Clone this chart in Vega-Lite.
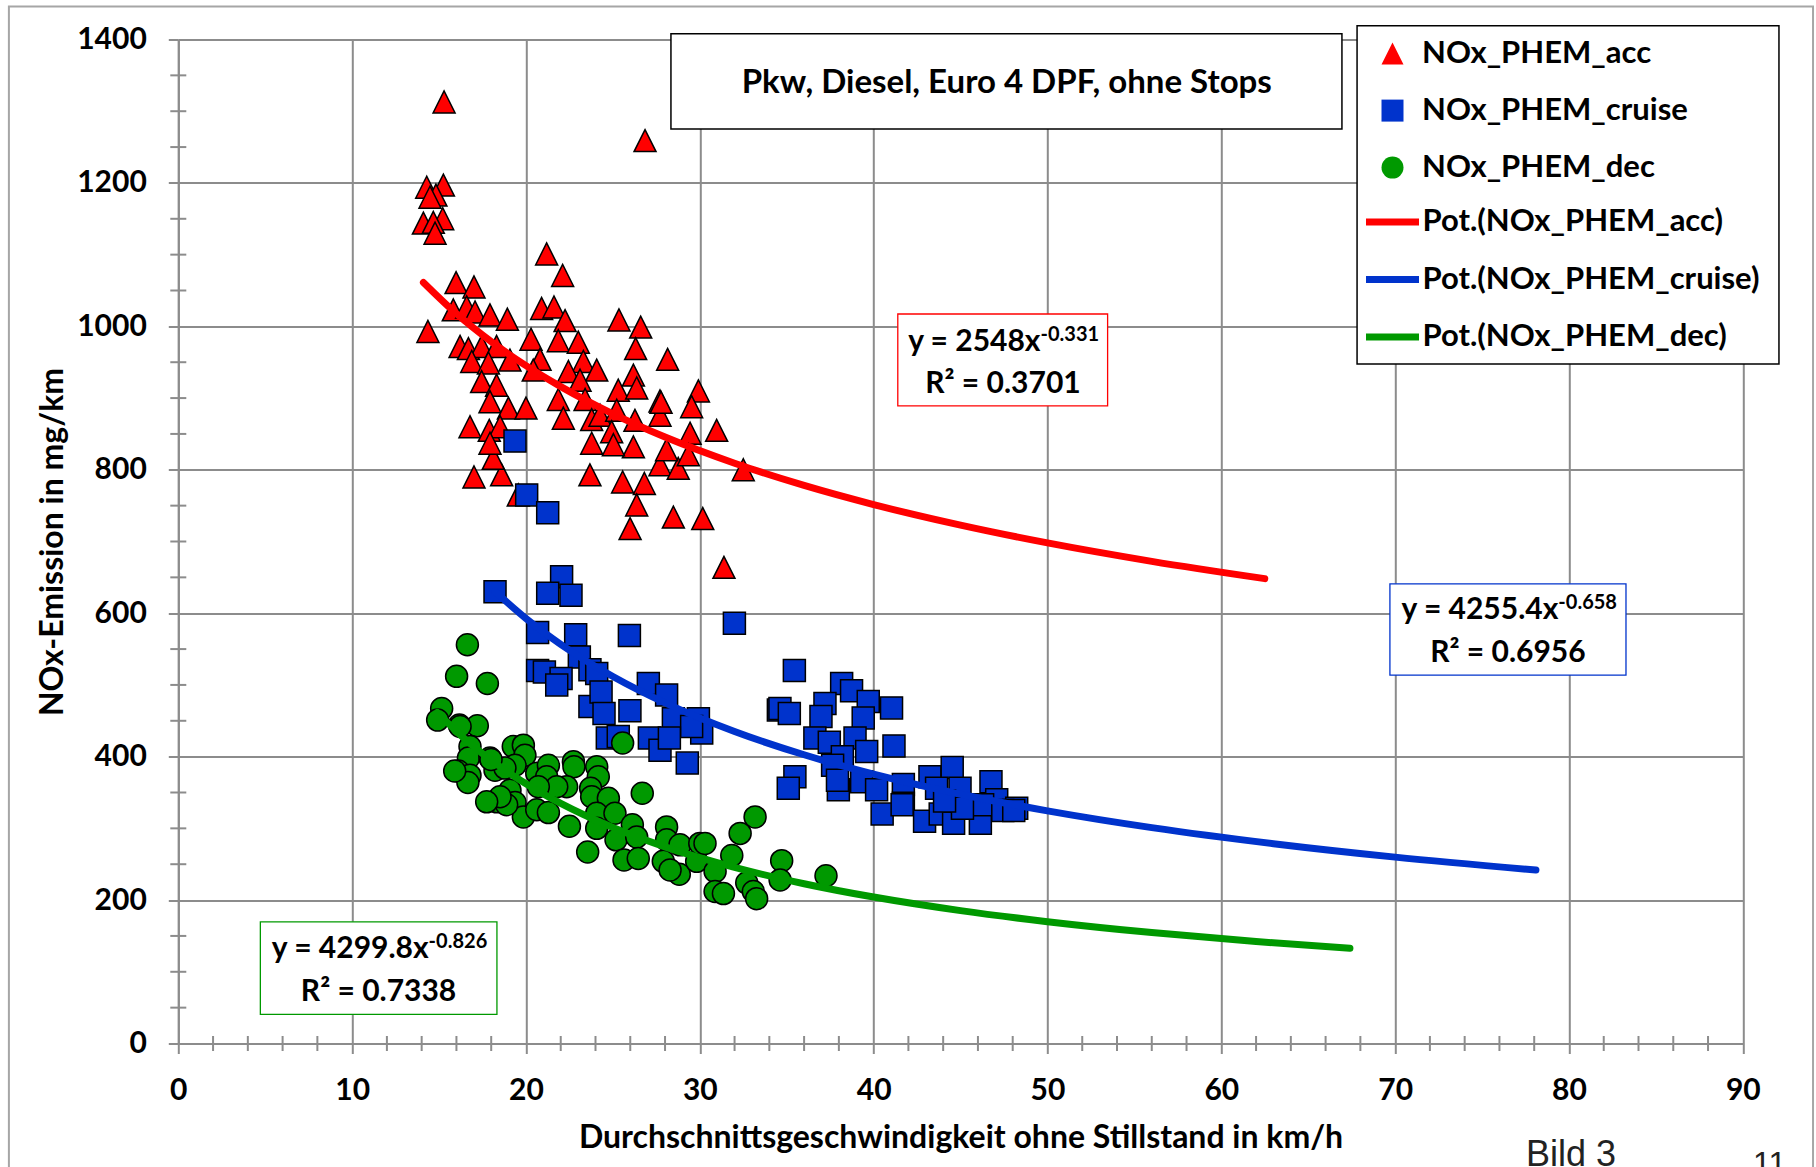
{
  "$schema": "https://vega.github.io/schema/vega-lite/v6.json",
  "width": 1564.5,
  "height": 1004,
  "autosize": {"type": "none"},
  "padding": {"left": 178.3, "top": 39.5, "right": 73.2, "bottom": 123.5},
  "background": "white",
  "config": {
    "view": {"stroke": null},
    "font": "Lato",
    "axis": {
      "grid": true, "gridColor": "#8c8c8c", "gridWidth": 2, "gridOpacity": 1,
      "domainColor": "#8c8c8c", "domainWidth": 2,
      "tickColor": "#8c8c8c", "tickWidth": 2, "tickSize": 10,
      "labelFont": "Lato", "labelFontWeight": "bold", "labelFontSize": 30, "labelColor": "black", "labelPadding": 22,
      "labelFlush": false, "labelOverlap": false, "format": "d",
      "titleFont": "Lato", "titleFontWeight": "bold", "titleFontSize": 32, "titleColor": "black"
    }
  },
  "layer": [
    {
      "data": {"values": [{"x1": -9.745, "x2": 94.04, "y1": -200, "y2": 1446}]},
      "mark": {"type": "rect", "fill": "white", "fillOpacity": 0, "stroke": "#a6a6a6", "strokeWidth": 2},
      "encoding": {
        "x": {"field": "x1", "type": "quantitative", "scale": {"domain": [0, 90], "nice": false, "zero": false}},
        "x2": {"field": "x2"},
        "y": {"field": "y1", "type": "quantitative", "scale": {"domain": [0, 1400], "nice": false, "zero": false}},
        "y2": {"field": "y2"}
      }
    },
    {
      "data": {"values": [
        {"x1": 28.34, "x2": 66.94, "y1": 1275.2, "y2": 1408.1},
        {"x1": 67.81, "x2": 92.08, "y1": 947.5, "y2": 1419.2}
      ]},
      "mark": {"type": "rect", "fill": "white", "stroke": "black", "strokeWidth": 1.5},
      "encoding": {
        "x": {"field": "x1", "type": "quantitative"},
        "x2": {"field": "x2"},
        "y": {"field": "y1", "type": "quantitative"},
        "y2": {"field": "y2"}
      }
    },
    {
      "data": {"values": [{"x1": 41.39, "x2": 53.46, "y1": 889, "y2": 1017.2}]},
      "mark": {"type": "rect", "fill": "white", "stroke": "#FF0000", "strokeWidth": 1.3},
      "encoding": {
        "x": {"field": "x1", "type": "quantitative"},
        "x2": {"field": "x2"},
        "y": {"field": "y1", "type": "quantitative"},
        "y2": {"field": "y2"}
      }
    },
    {
      "data": {"values": [{"x1": 69.7, "x2": 83.28, "y1": 513.8, "y2": 641}]},
      "mark": {"type": "rect", "fill": "white", "stroke": "#0033CC", "strokeWidth": 1.3},
      "encoding": {
        "x": {"field": "x1", "type": "quantitative"},
        "x2": {"field": "x2"},
        "y": {"field": "y1", "type": "quantitative"},
        "y2": {"field": "y2"}
      }
    },
    {
      "data": {"values": [{"x1": 4.72, "x2": 18.33, "y1": 40.7, "y2": 169.7}]},
      "mark": {"type": "rect", "fill": "white", "stroke": "#009900", "strokeWidth": 1.3},
      "encoding": {
        "x": {"field": "x1", "type": "quantitative"},
        "x2": {"field": "x2"},
        "y": {"field": "y1", "type": "quantitative"},
        "y2": {"field": "y2"}
      }
    },
    {
      "data": {"values": [{"t": "Pkw, Diesel, Euro 4 DPF, ohne Stops", "x": 47.66, "y": 1325.3}]},
      "mark": {"type": "text", "font": "Lato", "fontWeight": "bold", "fontSize": 33, "align": "center", "baseline": "alphabetic", "color": "black"},
      "encoding": {
        "x": {"field": "x", "type": "quantitative"},
        "y": {"field": "y", "type": "quantitative"},
        "text": {"field": "t"}
      }
    },
    {
      "data": {"values": [
        {"t": "y = 2548x", "x": 49.6, "y": 966.2},
        {"t": "y = 4255.4x", "x": 79.39, "y": 591.5},
        {"t": "y = 4299.8x", "x": 14.4, "y": 119.1}
      ]},
      "mark": {"type": "text", "font": "Lato", "fontWeight": "bold", "fontSize": 30, "align": "right", "baseline": "alphabetic", "color": "black"},
      "encoding": {
        "x": {"field": "x", "type": "quantitative"},
        "y": {"field": "y", "type": "quantitative"},
        "text": {"field": "t"}
      }
    },
    {
      "data": {"values": [
        {"t": "-0.331", "x": 49.6, "y": 966.2},
        {"t": "-0.658", "x": 79.39, "y": 591.5},
        {"t": "-0.826", "x": 14.4, "y": 119.1}
      ]},
      "mark": {"type": "text", "font": "Lato", "fontWeight": "bold", "fontSize": 20, "align": "left", "baseline": "alphabetic", "dy": -10, "color": "black"},
      "encoding": {
        "x": {"field": "x", "type": "quantitative"},
        "y": {"field": "y", "type": "quantitative"},
        "text": {"field": "t"}
      }
    },
    {
      "data": {"values": [
        {"t": "R² = 0.3701", "x": 47.44, "y": 907.5},
        {"t": "R² = 0.6956", "x": 76.49, "y": 531.4},
        {"t": "R² = 0.7338", "x": 11.52, "y": 59}
      ]},
      "mark": {"type": "text", "font": "Lato", "fontWeight": "bold", "fontSize": 30, "align": "center", "baseline": "alphabetic", "color": "black"},
      "encoding": {
        "x": {"field": "x", "type": "quantitative"},
        "y": {"field": "y", "type": "quantitative"},
        "text": {"field": "t"}
      }
    },
    {
      "data": {"values": [{"t": "Bild 3", "x": 77.53, "y": -171.2}]},
      "mark": {"type": "text", "font": "Liberation Sans", "fontSize": 36, "align": "left", "baseline": "alphabetic", "color": "#222222"},
      "encoding": {
        "x": {"field": "x", "type": "quantitative"},
        "y": {"field": "y", "type": "quantitative"},
        "text": {"field": "t"}
      }
    },
    {
      "data": {"values": [{"t": "11", "x": 90.59, "y": -181.8}]},
      "mark": {"type": "text", "font": "Liberation Sans", "fontSize": 32, "align": "left", "baseline": "alphabetic", "color": "#222222"},
      "encoding": {
        "x": {"field": "x", "type": "quantitative"},
        "y": {"field": "y", "type": "quantitative"},
        "text": {"field": "t"}
      }
    },
    {
      "data": {"values": [
        {"v": 2}, {"v": 4}, {"v": 6}, {"v": 8}, {"v": 12}, {"v": 14}, {"v": 16}, {"v": 18},
        {"v": 22}, {"v": 24}, {"v": 26}, {"v": 28}, {"v": 32}, {"v": 34}, {"v": 36}, {"v": 38},
        {"v": 42}, {"v": 44}, {"v": 46}, {"v": 48}, {"v": 52}, {"v": 54}, {"v": 56}, {"v": 58},
        {"v": 62}, {"v": 64}, {"v": 66}, {"v": 68}, {"v": 72}, {"v": 74}, {"v": 76}, {"v": 78},
        {"v": 82}, {"v": 84}, {"v": 86}, {"v": 88}
      ]},
      "mark": {"type": "tick", "orient": "vertical", "size": 15, "thickness": 2, "color": "#8c8c8c", "opacity": 1},
      "encoding": {
        "x": {"field": "v", "type": "quantitative"},
        "y": {"datum": 0, "type": "quantitative"}
      }
    },
    {
      "data": {"values": [
        {"v": 50}, {"v": 100}, {"v": 150}, {"v": 250}, {"v": 300}, {"v": 350}, {"v": 450}, {"v": 500}, {"v": 550},
        {"v": 650}, {"v": 700}, {"v": 750}, {"v": 850}, {"v": 900}, {"v": 950}, {"v": 1050}, {"v": 1100}, {"v": 1150},
        {"v": 1250}, {"v": 1300}, {"v": 1350}
      ]},
      "mark": {"type": "tick", "orient": "horizontal", "size": 16, "thickness": 2, "color": "#8c8c8c", "opacity": 1},
      "encoding": {
        "y": {"field": "v", "type": "quantitative"},
        "x": {"datum": 0, "type": "quantitative"}
      }
    },
    {
      "data": {"values": [
        {"series": "NOx_PHEM_acc", "x": 15.29, "y": 1313}, {"series": "NOx_PHEM_acc", "x": 26.85, "y": 1259},
        {"series": "NOx_PHEM_acc", "x": 14.29, "y": 1194}, {"series": "NOx_PHEM_acc", "x": 15.25, "y": 1197},
        {"series": "NOx_PHEM_acc", "x": 14.82, "y": 1183}, {"series": "NOx_PHEM_acc", "x": 14.48, "y": 1180},
        {"series": "NOx_PHEM_acc", "x": 14.10, "y": 1144}, {"series": "NOx_PHEM_acc", "x": 15.21, "y": 1150},
        {"series": "NOx_PHEM_acc", "x": 14.67, "y": 1145}, {"series": "NOx_PHEM_acc", "x": 14.77, "y": 1130},
        {"series": "NOx_PHEM_acc", "x": 21.19, "y": 1101}, {"series": "NOx_PHEM_acc", "x": 22.11, "y": 1071},
        {"series": "NOx_PHEM_acc", "x": 15.98, "y": 1061}, {"series": "NOx_PHEM_acc", "x": 17.01, "y": 1055},
        {"series": "NOx_PHEM_acc", "x": 14.36, "y": 993}, {"series": "NOx_PHEM_acc", "x": 15.82, "y": 1023},
        {"series": "NOx_PHEM_acc", "x": 16.59, "y": 1027}, {"series": "NOx_PHEM_acc", "x": 17.07, "y": 1020},
        {"series": "NOx_PHEM_acc", "x": 17.93, "y": 1016}, {"series": "NOx_PHEM_acc", "x": 18.93, "y": 1010},
        {"series": "NOx_PHEM_acc", "x": 20.90, "y": 1025}, {"series": "NOx_PHEM_acc", "x": 21.61, "y": 1027},
        {"series": "NOx_PHEM_acc", "x": 22.25, "y": 1008}, {"series": "NOx_PHEM_acc", "x": 25.35, "y": 1009},
        {"series": "NOx_PHEM_acc", "x": 26.60, "y": 999}, {"series": "NOx_PHEM_acc", "x": 20.29, "y": 982},
        {"series": "NOx_PHEM_acc", "x": 21.86, "y": 980}, {"series": "NOx_PHEM_acc", "x": 23.01, "y": 978},
        {"series": "NOx_PHEM_acc", "x": 26.31, "y": 969}, {"series": "NOx_PHEM_acc", "x": 28.15, "y": 954},
        {"series": "NOx_PHEM_acc", "x": 16.21, "y": 972}, {"series": "NOx_PHEM_acc", "x": 16.69, "y": 969},
        {"series": "NOx_PHEM_acc", "x": 17.45, "y": 972}, {"series": "NOx_PHEM_acc", "x": 18.31, "y": 972},
        {"series": "NOx_PHEM_acc", "x": 16.88, "y": 951}, {"series": "NOx_PHEM_acc", "x": 17.84, "y": 949},
        {"series": "NOx_PHEM_acc", "x": 19.08, "y": 953}, {"series": "NOx_PHEM_acc", "x": 20.81, "y": 954},
        {"series": "NOx_PHEM_acc", "x": 20.42, "y": 939}, {"series": "NOx_PHEM_acc", "x": 23.30, "y": 951},
        {"series": "NOx_PHEM_acc", "x": 24.07, "y": 939}, {"series": "NOx_PHEM_acc", "x": 22.44, "y": 937},
        {"series": "NOx_PHEM_acc", "x": 23.11, "y": 925}, {"series": "NOx_PHEM_acc", "x": 26.18, "y": 932},
        {"series": "NOx_PHEM_acc", "x": 17.45, "y": 923}, {"series": "NOx_PHEM_acc", "x": 18.31, "y": 918},
        {"series": "NOx_PHEM_acc", "x": 21.86, "y": 898}, {"series": "NOx_PHEM_acc", "x": 23.40, "y": 898},
        {"series": "NOx_PHEM_acc", "x": 25.31, "y": 911}, {"series": "NOx_PHEM_acc", "x": 26.37, "y": 914},
        {"series": "NOx_PHEM_acc", "x": 29.92, "y": 910}, {"series": "NOx_PHEM_acc", "x": 27.71, "y": 896},
        {"series": "NOx_PHEM_acc", "x": 29.53, "y": 888}, {"series": "NOx_PHEM_acc", "x": 17.93, "y": 895},
        {"series": "NOx_PHEM_acc", "x": 18.99, "y": 886}, {"series": "NOx_PHEM_acc", "x": 20.00, "y": 886},
        {"series": "NOx_PHEM_acc", "x": 22.15, "y": 872}, {"series": "NOx_PHEM_acc", "x": 23.78, "y": 870},
        {"series": "NOx_PHEM_acc", "x": 24.26, "y": 876}, {"series": "NOx_PHEM_acc", "x": 25.22, "y": 883},
        {"series": "NOx_PHEM_acc", "x": 26.27, "y": 869}, {"series": "NOx_PHEM_acc", "x": 27.71, "y": 876},
        {"series": "NOx_PHEM_acc", "x": 29.44, "y": 851}, {"series": "NOx_PHEM_acc", "x": 30.97, "y": 855},
        {"series": "NOx_PHEM_acc", "x": 16.78, "y": 860}, {"series": "NOx_PHEM_acc", "x": 17.89, "y": 855},
        {"series": "NOx_PHEM_acc", "x": 18.51, "y": 860}, {"series": "NOx_PHEM_acc", "x": 23.78, "y": 837},
        {"series": "NOx_PHEM_acc", "x": 24.93, "y": 853}, {"series": "NOx_PHEM_acc", "x": 26.18, "y": 832},
        {"series": "NOx_PHEM_acc", "x": 17.01, "y": 790}, {"series": "NOx_PHEM_acc", "x": 18.60, "y": 793},
        {"series": "NOx_PHEM_acc", "x": 18.12, "y": 816}, {"series": "NOx_PHEM_acc", "x": 19.56, "y": 765},
        {"series": "NOx_PHEM_acc", "x": 23.68, "y": 793}, {"series": "NOx_PHEM_acc", "x": 25.56, "y": 783},
        {"series": "NOx_PHEM_acc", "x": 26.81, "y": 781}, {"series": "NOx_PHEM_acc", "x": 26.37, "y": 751},
        {"series": "NOx_PHEM_acc", "x": 25.99, "y": 718}, {"series": "NOx_PHEM_acc", "x": 28.48, "y": 734},
        {"series": "NOx_PHEM_acc", "x": 30.17, "y": 732}, {"series": "NOx_PHEM_acc", "x": 31.39, "y": 664},
        {"series": "NOx_PHEM_acc", "x": 32.50, "y": 800}, {"series": "NOx_PHEM_acc", "x": 27.71, "y": 807},
        {"series": "NOx_PHEM_acc", "x": 28.76, "y": 802}, {"series": "NOx_PHEM_acc", "x": 29.34, "y": 821},
        {"series": "NOx_PHEM_acc", "x": 25.03, "y": 835}, {"series": "NOx_PHEM_acc", "x": 28.09, "y": 828},
        {"series": "NOx_PHEM_acc", "x": 17.93, "y": 837}, {"series": "NOx_PHEM_acc", "x": 27.77, "y": 894},

        {"series": "NOx_PHEM_cruise", "x": 19.37, "y": 840}, {"series": "NOx_PHEM_cruise", "x": 20.04, "y": 765},
        {"series": "NOx_PHEM_cruise", "x": 21.25, "y": 740}, {"series": "NOx_PHEM_cruise", "x": 18.22, "y": 630},
        {"series": "NOx_PHEM_cruise", "x": 22.05, "y": 651}, {"series": "NOx_PHEM_cruise", "x": 21.25, "y": 628},
        {"series": "NOx_PHEM_cruise", "x": 22.59, "y": 625}, {"series": "NOx_PHEM_cruise", "x": 20.67, "y": 573},
        {"series": "NOx_PHEM_cruise", "x": 22.86, "y": 570}, {"series": "NOx_PHEM_cruise", "x": 25.95, "y": 569},
        {"series": "NOx_PHEM_cruise", "x": 31.99, "y": 586}, {"series": "NOx_PHEM_cruise", "x": 23.07, "y": 539},
        {"series": "NOx_PHEM_cruise", "x": 20.67, "y": 520}, {"series": "NOx_PHEM_cruise", "x": 21.06, "y": 518},
        {"series": "NOx_PHEM_cruise", "x": 22.02, "y": 509}, {"series": "NOx_PHEM_cruise", "x": 21.77, "y": 500},
        {"series": "NOx_PHEM_cruise", "x": 23.68, "y": 521}, {"series": "NOx_PHEM_cruise", "x": 24.07, "y": 516},
        {"series": "NOx_PHEM_cruise", "x": 27.04, "y": 502}, {"series": "NOx_PHEM_cruise", "x": 28.09, "y": 486},
        {"series": "NOx_PHEM_cruise", "x": 23.68, "y": 470}, {"series": "NOx_PHEM_cruise", "x": 24.32, "y": 490},
        {"series": "NOx_PHEM_cruise", "x": 24.49, "y": 460}, {"series": "NOx_PHEM_cruise", "x": 25.98, "y": 464},
        {"series": "NOx_PHEM_cruise", "x": 28.48, "y": 453}, {"series": "NOx_PHEM_cruise", "x": 29.92, "y": 453},
        {"series": "NOx_PHEM_cruise", "x": 30.11, "y": 433}, {"series": "NOx_PHEM_cruise", "x": 29.53, "y": 442},
        {"series": "NOx_PHEM_cruise", "x": 24.68, "y": 426}, {"series": "NOx_PHEM_cruise", "x": 25.31, "y": 428},
        {"series": "NOx_PHEM_cruise", "x": 27.10, "y": 426}, {"series": "NOx_PHEM_cruise", "x": 27.71, "y": 409},
        {"series": "NOx_PHEM_cruise", "x": 28.25, "y": 426}, {"series": "NOx_PHEM_cruise", "x": 29.28, "y": 391},
        {"series": "NOx_PHEM_cruise", "x": 34.52, "y": 465}, {"series": "NOx_PHEM_cruise", "x": 35.44, "y": 520},
        {"series": "NOx_PHEM_cruise", "x": 38.16, "y": 502}, {"series": "NOx_PHEM_cruise", "x": 38.73, "y": 492},
        {"series": "NOx_PHEM_cruise", "x": 37.20, "y": 474}, {"series": "NOx_PHEM_cruise", "x": 39.69, "y": 477},
        {"series": "NOx_PHEM_cruise", "x": 41.03, "y": 468}, {"series": "NOx_PHEM_cruise", "x": 34.61, "y": 467},
        {"series": "NOx_PHEM_cruise", "x": 35.15, "y": 460}, {"series": "NOx_PHEM_cruise", "x": 36.97, "y": 456},
        {"series": "NOx_PHEM_cruise", "x": 39.40, "y": 454}, {"series": "NOx_PHEM_cruise", "x": 36.62, "y": 426},
        {"series": "NOx_PHEM_cruise", "x": 37.45, "y": 420}, {"series": "NOx_PHEM_cruise", "x": 38.93, "y": 426},
        {"series": "NOx_PHEM_cruise", "x": 39.60, "y": 407}, {"series": "NOx_PHEM_cruise", "x": 41.17, "y": 415},
        {"series": "NOx_PHEM_cruise", "x": 38.20, "y": 400}, {"series": "NOx_PHEM_cruise", "x": 37.64, "y": 388},
        {"series": "NOx_PHEM_cruise", "x": 35.47, "y": 372}, {"series": "NOx_PHEM_cruise", "x": 35.09, "y": 356},
        {"series": "NOx_PHEM_cruise", "x": 37.97, "y": 354}, {"series": "NOx_PHEM_cruise", "x": 39.31, "y": 365},
        {"series": "NOx_PHEM_cruise", "x": 40.17, "y": 354}, {"series": "NOx_PHEM_cruise", "x": 41.71, "y": 361},
        {"series": "NOx_PHEM_cruise", "x": 43.24, "y": 372}, {"series": "NOx_PHEM_cruise", "x": 44.52, "y": 385},
        {"series": "NOx_PHEM_cruise", "x": 43.62, "y": 356}, {"series": "NOx_PHEM_cruise", "x": 44.97, "y": 356},
        {"series": "NOx_PHEM_cruise", "x": 46.75, "y": 365}, {"series": "NOx_PHEM_cruise", "x": 41.71, "y": 335},
        {"series": "NOx_PHEM_cruise", "x": 47.08, "y": 340}, {"series": "NOx_PHEM_cruise", "x": 48.23, "y": 328},
        {"series": "NOx_PHEM_cruise", "x": 40.49, "y": 320}, {"series": "NOx_PHEM_cruise", "x": 42.93, "y": 310},
        {"series": "NOx_PHEM_cruise", "x": 43.83, "y": 320}, {"series": "NOx_PHEM_cruise", "x": 44.60, "y": 307},
        {"series": "NOx_PHEM_cruise", "x": 46.14, "y": 307}, {"series": "NOx_PHEM_cruise", "x": 46.27, "y": 333},
        {"series": "NOx_PHEM_cruise", "x": 47.43, "y": 325}, {"series": "NOx_PHEM_cruise", "x": 48.06, "y": 325},
        {"series": "NOx_PHEM_cruise", "x": 45.11, "y": 328}, {"series": "NOx_PHEM_cruise", "x": 44.08, "y": 338},
        {"series": "NOx_PHEM_cruise", "x": 41.64, "y": 333}, {"series": "NOx_PHEM_cruise", "x": 37.92, "y": 367},

        {"series": "NOx_PHEM_dec", "x": 16.63, "y": 556}, {"series": "NOx_PHEM_dec", "x": 16.01, "y": 512},
        {"series": "NOx_PHEM_dec", "x": 17.78, "y": 502}, {"series": "NOx_PHEM_dec", "x": 15.15, "y": 467},
        {"series": "NOx_PHEM_dec", "x": 14.92, "y": 451}, {"series": "NOx_PHEM_dec", "x": 16.17, "y": 444},
        {"series": "NOx_PHEM_dec", "x": 17.20, "y": 443}, {"series": "NOx_PHEM_dec", "x": 16.78, "y": 414},
        {"series": "NOx_PHEM_dec", "x": 16.69, "y": 398}, {"series": "NOx_PHEM_dec", "x": 16.11, "y": 380},
        {"series": "NOx_PHEM_dec", "x": 16.78, "y": 374}, {"series": "NOx_PHEM_dec", "x": 17.93, "y": 398},
        {"series": "NOx_PHEM_dec", "x": 18.22, "y": 381}, {"series": "NOx_PHEM_dec", "x": 19.27, "y": 414},
        {"series": "NOx_PHEM_dec", "x": 19.85, "y": 416}, {"series": "NOx_PHEM_dec", "x": 19.94, "y": 402},
        {"series": "NOx_PHEM_dec", "x": 19.37, "y": 388}, {"series": "NOx_PHEM_dec", "x": 18.79, "y": 384},
        {"series": "NOx_PHEM_dec", "x": 20.62, "y": 377}, {"series": "NOx_PHEM_dec", "x": 21.29, "y": 388},
        {"series": "NOx_PHEM_dec", "x": 21.19, "y": 372}, {"series": "NOx_PHEM_dec", "x": 22.73, "y": 393},
        {"series": "NOx_PHEM_dec", "x": 22.76, "y": 386}, {"series": "NOx_PHEM_dec", "x": 24.07, "y": 386},
        {"series": "NOx_PHEM_dec", "x": 24.16, "y": 372}, {"series": "NOx_PHEM_dec", "x": 22.34, "y": 358},
        {"series": "NOx_PHEM_dec", "x": 21.77, "y": 358}, {"series": "NOx_PHEM_dec", "x": 20.71, "y": 358},
        {"series": "NOx_PHEM_dec", "x": 19.08, "y": 353}, {"series": "NOx_PHEM_dec", "x": 18.31, "y": 337},
        {"series": "NOx_PHEM_dec", "x": 19.37, "y": 336}, {"series": "NOx_PHEM_dec", "x": 19.85, "y": 316},
        {"series": "NOx_PHEM_dec", "x": 20.62, "y": 326}, {"series": "NOx_PHEM_dec", "x": 21.29, "y": 322},
        {"series": "NOx_PHEM_dec", "x": 22.50, "y": 303}, {"series": "NOx_PHEM_dec", "x": 23.72, "y": 356},
        {"series": "NOx_PHEM_dec", "x": 23.78, "y": 344}, {"series": "NOx_PHEM_dec", "x": 24.74, "y": 342},
        {"series": "NOx_PHEM_dec", "x": 24.07, "y": 321}, {"series": "NOx_PHEM_dec", "x": 24.07, "y": 300},
        {"series": "NOx_PHEM_dec", "x": 25.12, "y": 321}, {"series": "NOx_PHEM_dec", "x": 25.18, "y": 284},
        {"series": "NOx_PHEM_dec", "x": 23.55, "y": 267}, {"series": "NOx_PHEM_dec", "x": 26.12, "y": 305},
        {"series": "NOx_PHEM_dec", "x": 26.37, "y": 288}, {"series": "NOx_PHEM_dec", "x": 25.64, "y": 256},
        {"series": "NOx_PHEM_dec", "x": 26.46, "y": 258}, {"series": "NOx_PHEM_dec", "x": 26.69, "y": 349},
        {"series": "NOx_PHEM_dec", "x": 28.09, "y": 302}, {"series": "NOx_PHEM_dec", "x": 28.09, "y": 284},
        {"series": "NOx_PHEM_dec", "x": 27.90, "y": 254}, {"series": "NOx_PHEM_dec", "x": 28.86, "y": 277},
        {"series": "NOx_PHEM_dec", "x": 28.82, "y": 236}, {"series": "NOx_PHEM_dec", "x": 28.29, "y": 242},
        {"series": "NOx_PHEM_dec", "x": 29.82, "y": 254}, {"series": "NOx_PHEM_dec", "x": 30.00, "y": 279},
        {"series": "NOx_PHEM_dec", "x": 33.18, "y": 316}, {"series": "NOx_PHEM_dec", "x": 32.32, "y": 293},
        {"series": "NOx_PHEM_dec", "x": 30.30, "y": 279}, {"series": "NOx_PHEM_dec", "x": 31.84, "y": 262},
        {"series": "NOx_PHEM_dec", "x": 30.88, "y": 240}, {"series": "NOx_PHEM_dec", "x": 34.71, "y": 255},
        {"series": "NOx_PHEM_dec", "x": 34.62, "y": 228}, {"series": "NOx_PHEM_dec", "x": 37.26, "y": 234},
        {"series": "NOx_PHEM_dec", "x": 32.70, "y": 224}, {"series": "NOx_PHEM_dec", "x": 33.08, "y": 212},
        {"series": "NOx_PHEM_dec", "x": 30.88, "y": 212}, {"series": "NOx_PHEM_dec", "x": 31.36, "y": 209},
        {"series": "NOx_PHEM_dec", "x": 33.27, "y": 202}, {"series": "NOx_PHEM_dec", "x": 25.56, "y": 419},
        {"series": "NOx_PHEM_dec", "x": 16.21, "y": 442}, {"series": "NOx_PHEM_dec", "x": 16.66, "y": 364},
        {"series": "NOx_PHEM_dec", "x": 17.99, "y": 396}, {"series": "NOx_PHEM_dec", "x": 18.89, "y": 333},
        {"series": "NOx_PHEM_dec", "x": 15.90, "y": 380}, {"series": "NOx_PHEM_dec", "x": 18.51, "y": 344},
        {"series": "NOx_PHEM_dec", "x": 17.74, "y": 337}
      ]},
      "mark": {"type": "point", "filled": true, "size": 484, "stroke": "black", "strokeWidth": 1.5, "opacity": 1},
      "encoding": {
        "x": {
          "field": "x", "type": "quantitative",
          "axis": {
            "values": [0, 10, 20, 30, 40, 50, 60, 70, 80, 90],
            "title": "Durchschnittsgeschwindigkeit ohne Stillstand in km/h",
            "titleX": 782.25, "titleY": 103.7, "titleAlign": "center", "titleBaseline": "alphabetic"
          }
        },
        "y": {
          "field": "y", "type": "quantitative",
          "axis": {
            "values": [0, 200, 400, 600, 800, 1000, 1200, 1400],
            "title": "NOx-Emission in mg/km",
            "titleX": -115.8, "titleY": 502, "titleAngle": 270, "titleAlign": "center", "titleBaseline": "alphabetic"
          }
        },
        "color": {
          "field": "series", "type": "nominal",
          "scale": {"domain": ["NOx_PHEM_acc", "NOx_PHEM_cruise", "NOx_PHEM_dec"], "range": ["#FF0000", "#0033CC", "#009900"]},
          "legend": {
            "orient": "none", "legendX": 1198.7, "legendY": -1.4, "title": null, "padding": 0,
            "labelFont": "Lato", "labelFontWeight": "bold", "labelFontSize": 31, "labelColor": "black", "labelOffset": 14, "labelLimit": 0,
            "symbolSize": 484, "symbolStrokeColor": "black", "symbolStrokeWidth": 1.5, "symbolOpacity": 1, "rowPadding": 25
          }
        },
        "shape": {
          "field": "series", "type": "nominal",
          "scale": {"domain": ["NOx_PHEM_acc", "NOx_PHEM_cruise", "NOx_PHEM_dec"], "range": ["M0,-1L-1,1L1,1Z", "square", "circle"]},
          "legend": {
            "orient": "none", "legendX": 1198.7, "legendY": -1.4, "title": null, "padding": 0,
            "labelFont": "Lato", "labelFontWeight": "bold", "labelFontSize": 31, "labelColor": "black", "labelOffset": 14, "labelLimit": 0,
            "symbolSize": 484, "symbolStrokeColor": "black", "symbolStrokeWidth": 1.5, "symbolOpacity": 1, "rowPadding": 25
          }
        }
      }
    },
    {
      "data": {"values": [
        {"fit": "Pot.(NOx_PHEM_acc)", "x": 14.1, "y": 1061.3}, {"fit": "Pot.(NOx_PHEM_acc)", "x": 16, "y": 1017.7},
        {"fit": "Pot.(NOx_PHEM_acc)", "x": 18, "y": 978.7}, {"fit": "Pot.(NOx_PHEM_acc)", "x": 20, "y": 945.2},
        {"fit": "Pot.(NOx_PHEM_acc)", "x": 22, "y": 916.0}, {"fit": "Pot.(NOx_PHEM_acc)", "x": 25, "y": 878.0},
        {"fit": "Pot.(NOx_PHEM_acc)", "x": 28, "y": 845.7}, {"fit": "Pot.(NOx_PHEM_acc)", "x": 32, "y": 809.2},
        {"fit": "Pot.(NOx_PHEM_acc)", "x": 36, "y": 778.2}, {"fit": "Pot.(NOx_PHEM_acc)", "x": 40, "y": 751.5},
        {"fit": "Pot.(NOx_PHEM_acc)", "x": 45, "y": 722.8}, {"fit": "Pot.(NOx_PHEM_acc)", "x": 50, "y": 698.0},
        {"fit": "Pot.(NOx_PHEM_acc)", "x": 56, "y": 672.3}, {"fit": "Pot.(NOx_PHEM_acc)", "x": 62.5, "y": 648.2},

        {"fit": "Pot.(NOx_PHEM_cruise)", "x": 18.2, "y": 630.7}, {"fit": "Pot.(NOx_PHEM_cruise)", "x": 20, "y": 592.7},
        {"fit": "Pot.(NOx_PHEM_cruise)", "x": 22, "y": 556.7}, {"fit": "Pot.(NOx_PHEM_cruise)", "x": 25, "y": 511.8},
        {"fit": "Pot.(NOx_PHEM_cruise)", "x": 28, "y": 475.0}, {"fit": "Pot.(NOx_PHEM_cruise)", "x": 32, "y": 435.1},
        {"fit": "Pot.(NOx_PHEM_cruise)", "x": 36, "y": 402.6}, {"fit": "Pot.(NOx_PHEM_cruise)", "x": 40, "y": 375.6},
        {"fit": "Pot.(NOx_PHEM_cruise)", "x": 45, "y": 347.6}, {"fit": "Pot.(NOx_PHEM_cruise)", "x": 50, "y": 324.4},
        {"fit": "Pot.(NOx_PHEM_cruise)", "x": 56, "y": 301.0}, {"fit": "Pot.(NOx_PHEM_cruise)", "x": 63, "y": 278.6},
        {"fit": "Pot.(NOx_PHEM_cruise)", "x": 70, "y": 259.9}, {"fit": "Pot.(NOx_PHEM_cruise)", "x": 78.1, "y": 241.9},

        {"fit": "Pot.(NOx_PHEM_dec)", "x": 14.9, "y": 461.7}, {"fit": "Pot.(NOx_PHEM_dec)", "x": 16, "y": 435.3},
        {"fit": "Pot.(NOx_PHEM_dec)", "x": 18, "y": 395.0}, {"fit": "Pot.(NOx_PHEM_dec)", "x": 20, "y": 362.1},
        {"fit": "Pot.(NOx_PHEM_dec)", "x": 22, "y": 334.7}, {"fit": "Pot.(NOx_PHEM_dec)", "x": 25, "y": 301.1},
        {"fit": "Pot.(NOx_PHEM_dec)", "x": 28, "y": 274.2}, {"fit": "Pot.(NOx_PHEM_dec)", "x": 32, "y": 245.6},
        {"fit": "Pot.(NOx_PHEM_dec)", "x": 36, "y": 222.8}, {"fit": "Pot.(NOx_PHEM_dec)", "x": 40, "y": 204.2},
        {"fit": "Pot.(NOx_PHEM_dec)", "x": 45, "y": 185.3}, {"fit": "Pot.(NOx_PHEM_dec)", "x": 50, "y": 169.9},
        {"fit": "Pot.(NOx_PHEM_dec)", "x": 56, "y": 154.7}, {"fit": "Pot.(NOx_PHEM_dec)", "x": 62, "y": 142.2},
        {"fit": "Pot.(NOx_PHEM_dec)", "x": 67.4, "y": 132.7}
      ]},
      "mark": {"type": "line", "strokeWidth": 7, "strokeCap": "round", "interpolate": "monotone"},
      "encoding": {
        "x": {"field": "x", "type": "quantitative"},
        "y": {"field": "y", "type": "quantitative"},
        "stroke": {
          "field": "fit", "type": "nominal",
          "scale": {"domain": ["Pot.(NOx_PHEM_acc)", "Pot.(NOx_PHEM_cruise)", "Pot.(NOx_PHEM_dec)"], "range": ["#FF0000", "#0033CC", "#009900"]},
          "legend": {
            "orient": "none", "legendX": 1184.2, "legendY": 152.5, "title": null, "padding": 0,
            "labelFont": "Lato", "labelFontWeight": "bold", "labelFontSize": 31, "labelColor": "black", "labelOffset": 0, "labelLimit": 0,
            "symbolType": "stroke", "symbolSize": 2809, "symbolStrokeWidth": 7, "rowPadding": 12.5
          }
        }
      }
    }
  ]
}
